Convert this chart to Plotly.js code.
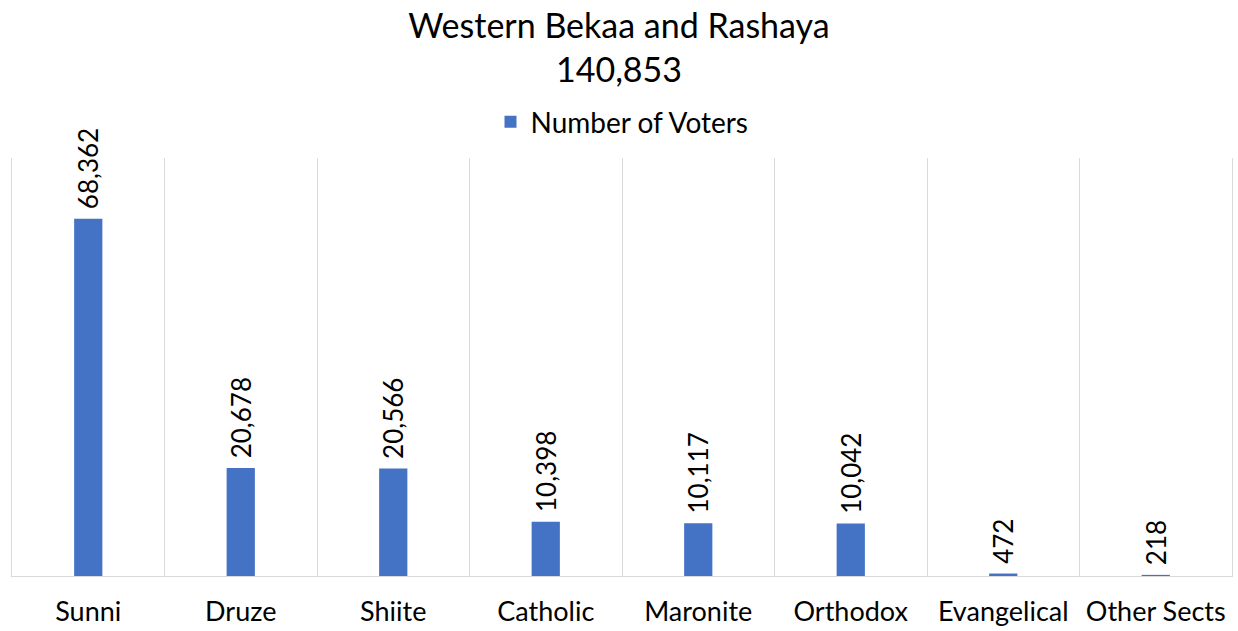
<!DOCTYPE html>
<html>
<head>
<meta charset="utf-8">
<script src="https://cdn.plot.ly/plotly-3.0.1.min.js"></script>
<style>html,body{margin:0;padding:0;background:#fff;}#chart{width:1238px;height:631px;}</style>
</head>
<body>
<div id="chart"></div>
<script>
const categories = ["Sunni", "Druze", "Shiite", "Catholic", "Maronite", "Orthodox", "Evangelical", "Other Sects"];
const voters = [68362, 20678, 20566, 10398, 10117, 10042, 472, 218];
const seriesName = "Number of Voters";
const titleLine1 = "Western Bekaa and Rashaya";
const titleLine2 = "140,853";

const FONT = "Lato, 'Open Sans', sans-serif";

const trace = {
  type: "bar",
  x: categories,
  y: voters,
  name: seriesName,
  marker: {color: "#4472C4"},
  width: 0.185,
  text: voters.map(v => "\u00a0" + v.toLocaleString("en-US")),
  textposition: "outside",
  textangle: -90,
  constraintext: "none",
  cliponaxis: false,
  textfont: {family: FONT, size: 26, color: "#000"},
  hoverinfo: "x+y"
};

const layout = {
  width: 1238, height: 631,
  paper_bgcolor: "#fff", plot_bgcolor: "#fff",
  margin: {l: 12, r: 6, t: 158, b: 55},
  title: {
    text: titleLine1 + "<br>" + titleLine2,
    font: {family: FONT, size: 34, color: "#000"},
    x: 0.5, xanchor: "center",
    yref: "container", y: 0.94, yanchor: "middle"
  },
  showlegend: true,
  legend: {
    orientation: "h", x: 0.5, xanchor: "center", y: 1.086, yanchor: "middle",
    font: {family: FONT, size: 28, color: "#000"},
    itemwidth: 30
  },
  xaxis: {
    type: "category",
    tickson: "boundaries",
    showgrid: true, gridcolor: "#d9d9d9", gridwidth: 1,
    showline: true, linecolor: "#d9d9d9", linewidth: 1,
    ticks: "", ticklen: 0,
    tickangle: 0,
    ticklabelstandoff: 12,
    tickfont: {family: FONT, size: 27, color: "#000"},
    fixedrange: true
  },
  yaxis: {
    range: [0, 80000],
    showgrid: false, zeroline: false, showticklabels: false,
    showline: true, mirror: true, linecolor: "#d9d9d9", linewidth: 1,
    fixedrange: true
  },
  bargap: 0.8
};

Plotly.newPlot("chart", [trace], layout, {displayModeBar: false, staticPlot: true});
</script>
</body>
</html>
